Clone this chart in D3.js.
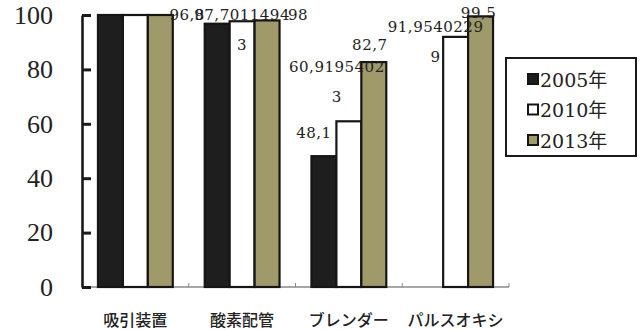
<!DOCTYPE html>
<html>
<head>
<meta charset="utf-8">
<script src="https://cdn.jsdelivr.net/npm/d3@7"></script>
<style>
  html, body { margin: 0; padding: 0; background: #fff; }
  svg { display: block; }
</style>
</head>
<body>
<svg id="chart" width="642" height="330"></svg>
<script>
// Equipment categories and survey years
const categories = ["吸引装置", "酸素配管", "ブレンダー", "パルスオキシ"];
const seriesNames = ["2005年", "2010年", "2013年"];

// Percent values per year (null = not surveyed)
const values2005 = [100, 96.8, 48.1, null];
const values2010 = [100, 97.70114943, 60.91954023, 91.95402299];
const values2013 = [100, 98, 82.7, 99.5];

// Which bars carry a value label
const labelled2005 = [false, true, true, false];
const labelled2010 = [false, true, true, true];
const labelled2013 = [false, true, true, true];

const yTicks = [0, 20, 40, 60, 80, 100];

// Hand-placed label offsets (dx from bar centre, dy from bar top to first baseline)
const labelShift2005 = [null, [-30, -4], [-10, -18], null];
const labelShift2010 = [null, [0, -1.5], [-12, -49], [-20, -5]];
const labelShift2013 = [null, [31, 0], [-4, -12], [-2, 2]];

const seriesValues = [values2005, values2010, values2013];
const seriesLabelled = [labelled2005, labelled2010, labelled2013];
const seriesShift = [labelShift2005, labelShift2010, labelShift2013];
const fills = ["#1e1e1e", "#ffffff", "#a09a6b"];

const svg = d3.select("#chart");

const x0 = d3.scaleBand().domain(categories).range([82, 509]).padding(0);
const x1 = d3.scaleBand().domain(seriesNames).range([0, x0.bandwidth()])
  .paddingInner(0).paddingOuter(0.64);
const y = d3.scaleLinear().domain([0, 100]).range([287, 15]);

// Category axis baseline with small boundary ticks
const xa = svg.append("g");
xa.append("line")
  .attr("x1", x0.range()[0]).attr("x2", x0.range()[1])
  .attr("y1", y(0)).attr("y2", y(0))
  .attr("stroke", "#8a8a8a").attr("stroke-width", 1.5);
xa.selectAll("line.b")
  .data(categories)
  .join("line")
  .attr("class", "b")
  .attr("x1", d => x0(d) + x0.bandwidth()).attr("x2", d => x0(d) + x0.bandwidth())
  .attr("y1", y(0)).attr("y2", y(0) - 4)
  .attr("stroke", "#8a8a8a").attr("stroke-width", 1);

// Category labels
svg.append("g").selectAll("text")
  .data(categories)
  .join("text")
  .attr("x", d => x0(d) + x0.bandwidth() / 2)
  .attr("y", 326)
  .attr("text-anchor", "middle")
  .attr("font-family", "'Noto Sans CJK JP', sans-serif")
  .attr("font-size", 16)
  .attr("font-weight", 500)
  .attr("fill", "#222")
  .text(d => d);

// Bars
const rows = [];
categories.forEach((c, ci) => {
  seriesNames.forEach((s, si) => {
    rows.push({
      cat: c, ser: s, si, ci,
      v: seriesValues[si][ci],
      labelled: seriesLabelled[si][ci],
      shift: seriesShift[si][ci]
    });
  });
});
const barRows = rows.filter(d => d.v !== null);

svg.append("g").selectAll("rect")
  .data(barRows)
  .join("rect")
  .attr("x", d => x0(d.cat) + x1(d.ser))
  .attr("y", d => y(d.v))
  .attr("width", x1.bandwidth())
  .attr("height", d => y(0) - y(d.v))
  .attr("fill", d => fills[d.si])
  .attr("stroke", "#151515")
  .attr("stroke-width", 2.2);

// Value axis
const ya = svg.append("g").attr("transform", "translate(82,0)")
  .call(d3.axisLeft(y).tickValues(yTicks).tickSizeInner(-9).tickSizeOuter(0).tickPadding(29));
ya.select(".domain").attr("stroke", "#1a1a1a").attr("stroke-width", 2.6);
ya.selectAll(".tick line").attr("stroke", "#1a1a1a").attr("stroke-width", 3);
ya.selectAll(".tick text")
  .attr("font-family", "'Liberation Serif', serif")
  .attr("font-size", 26)
  .attr("fill", "#222");

// Value labels (comma decimal, wrapped every 10 characters)
const fmt = v => String(v).replace(".", ",");
const wrap = s => s.match(/.{1,10}/g);
const lab = svg.append("g")
  .attr("font-family", "'DejaVu Serif', serif")
  .attr("font-size", 15)
  .attr("letter-spacing", 0.5)
  .attr("fill", "#222")
  .attr("text-anchor", "middle");
barRows.filter(d => d.labelled).forEach(d => {
  const cx = x0(d.cat) + x1(d.ser) + x1.bandwidth() / 2 + d.shift[0];
  const by = y(d.v) + d.shift[1];
  wrap(fmt(d.v)).forEach((line, i) => {
    lab.append("text").attr("x", cx).attr("y", by + i * 30).text(line);
  });
});

// Legend
const lg = svg.append("g");
lg.append("rect")
  .attr("x", 506).attr("y", 58).attr("width", 130).attr("height", 98)
  .attr("fill", "#fff").attr("stroke", "#1a1a1a").attr("stroke-width", 2);
const items = lg.selectAll("g.item")
  .data(seriesNames)
  .join("g")
  .attr("class", "item")
  .attr("transform", (d, i) => `translate(527,${79.5 + i * 30.5})`);
items.append("rect")
  .attr("x", 1).attr("y", -5.5).attr("width", 10).attr("height", 10)
  .attr("fill", (d, i) => fills[i])
  .attr("stroke", "#151515").attr("stroke-width", 2);
items.append("text")
  .attr("x", 13).attr("y", 7)
  .attr("font-family", "'DejaVu Serif', 'Noto Sans CJK JP', serif")
  .attr("font-size", 19)
  .attr("fill", "#222")
  .text(d => d);
</script>
</body>
</html>
